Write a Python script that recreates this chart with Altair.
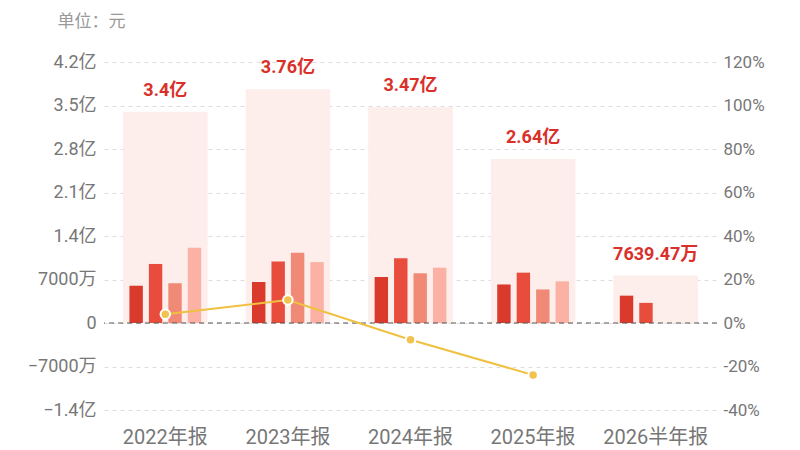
import altair as alt
import pandas as pd

periods = ["2022年报", "2023年报", "2024年报", "2025年报", "2026半年报"]
totals = [3.4e8, 3.76e8, 3.47e8, 2.64e8, 7639.47e4]
total_labels = ["3.4亿", "3.76亿", "3.47亿", "2.64亿", "7639.47万"]
quarters = ["Q1", "Q2", "Q3", "Q4"]
q_values = [
    [0.60e8, 0.95e8, 0.64e8, 1.21e8],
    [0.66e8, 0.99e8, 1.13e8, 0.98e8],
    [0.74e8, 1.04e8, 0.80e8, 0.89e8],
    [0.62e8, 0.81e8, 0.54e8, 0.67e8],
    [0.44e8, 0.3239e8, None, None],
]
growth_periods = ["2022年报", "2023年报", "2024年报", "2025年报"]
growth = [4.0, 10.6, -7.7, -23.9]

q_colors = ["#d93a2b", "#e84c3d", "#f08a76", "#fbb1a3"]

df_tot = pd.DataFrame({"period": periods, "total": totals, "label": total_labels})
rows = []
for p, vals in zip(periods, q_values):
    for q, v in zip(quarters, vals):
        if v is not None:
            rows.append({"period": p, "q": q, "value": v})
df_q = pd.DataFrame(rows)
df_g = pd.DataFrame({"period": growth_periods, "growth": growth})

font = "Roboto, Noto Sans CJK SC, sans-serif"
xscale = alt.Scale(domain=periods, paddingInner=0.31, paddingOuter=0.155)
yscale = alt.Scale(domain=[-1.4e8, 4.2e8], nice=False)
x_axis = alt.Axis(title=None, labelAngle=0, labelFontSize=20, labelColor="#777",
                  labelFont=font, domain=False, ticks=False, labelPadding=17, grid=False)

label_expr = ("datum.value == 0 ? '0' : (abs(datum.value) >= 1e8 ? format(datum.value/1e8, '.1~f') + '亿' "
              ": format(datum.value/1e4, 'd') + '万')")
y_axis = alt.Axis(titleAngle=0, titleAlign="left", titleX=-47, titleY=-41,
                  titleBaseline="middle", titleFontSize=17, titleFontWeight="normal",
                  titleColor="#999", titleFont=font,
                  values=[-1.4e8, -0.7e8, 0, 0.7e8, 1.4e8, 2.1e8, 2.8e8, 3.5e8, 4.2e8],
                  labelExpr=label_expr, labelFontSize=18, labelColor="#777", labelFont=font,
                  labelPadding=8, domain=False, ticks=False,
                  grid=True, gridDash=[4, 4], gridColor="#dddddd")
YT = "单位：元"


def X():
    return alt.X("period:N", scale=xscale, sort=periods, axis=x_axis)


bg = alt.Chart(df_tot).mark_bar(color="#fdeeeb").encode(
    x=X(),
    y=alt.Y("total:Q", scale=yscale, title=YT, axis=y_axis),
)
bars = alt.Chart(df_q).mark_bar().encode(
    x=X(),
    xOffset=alt.XOffset("q:N", scale=alt.Scale(domain=quarters, paddingInner=0.31, paddingOuter=0.33)),
    y=alt.Y("value:Q", scale=yscale, title=YT, axis=y_axis),
    color=alt.Color("q:N", scale=alt.Scale(domain=quarters, range=q_colors), legend=None),
)
txt = alt.Chart(df_tot).mark_text(color="#d9302a", fontSize=18, fontWeight="bold", font=font,
                                  dy=-21, baseline="middle").encode(
    x=X(),
    y=alt.Y("total:Q", scale=yscale, title=YT, axis=y_axis),
    text="label:N",
)
zero = alt.Chart(pd.DataFrame({"z": [0]})).mark_rule(color="#555", strokeDash=[5, 4], strokeWidth=1).encode(
    y=alt.Y("z:Q", scale=yscale, title=YT, axis=y_axis),
)
left = alt.layer(bg, bars, txt, zero)

gscale = alt.Scale(domain=[-40, 120], nice=False)
g_axis = alt.Axis(orient="right", values=[-40, -20, 0, 20, 40, 60, 80, 100, 120],
                  labelExpr="datum.value + '%'", labelFontSize=17, labelColor="#777",
                  labelFont=font, labelPadding=6, domain=False, ticks=False, grid=False)
line = alt.Chart(df_g).mark_line(color="#f0c040", strokeWidth=2).encode(
    x=X(),
    y=alt.Y("growth:Q", scale=gscale, title=None, axis=g_axis),
)
pts = alt.Chart(df_g).mark_point(filled=True, fill="#f2c14e", stroke="white", strokeWidth=2,
                                 size=90, opacity=1).encode(
    x=X(),
    y=alt.Y("growth:Q", scale=gscale, title=None, axis=g_axis),
)
right = alt.layer(line, pts)

chart = alt.layer(left, right).resolve_scale(y="independent").properties(
    width=613, height=348,
    background="white",
    autosize=alt.AutoSizeParams(type="none"),
    padding={"left": 96, "top": 54, "right": 75, "bottom": 40},
).configure_view(stroke="transparent", strokeWidth=0).configure_axis(
    domain=False, ticks=False
)

chart.save("out.html", embed_options={"renderer": "svg", "actions": False})
